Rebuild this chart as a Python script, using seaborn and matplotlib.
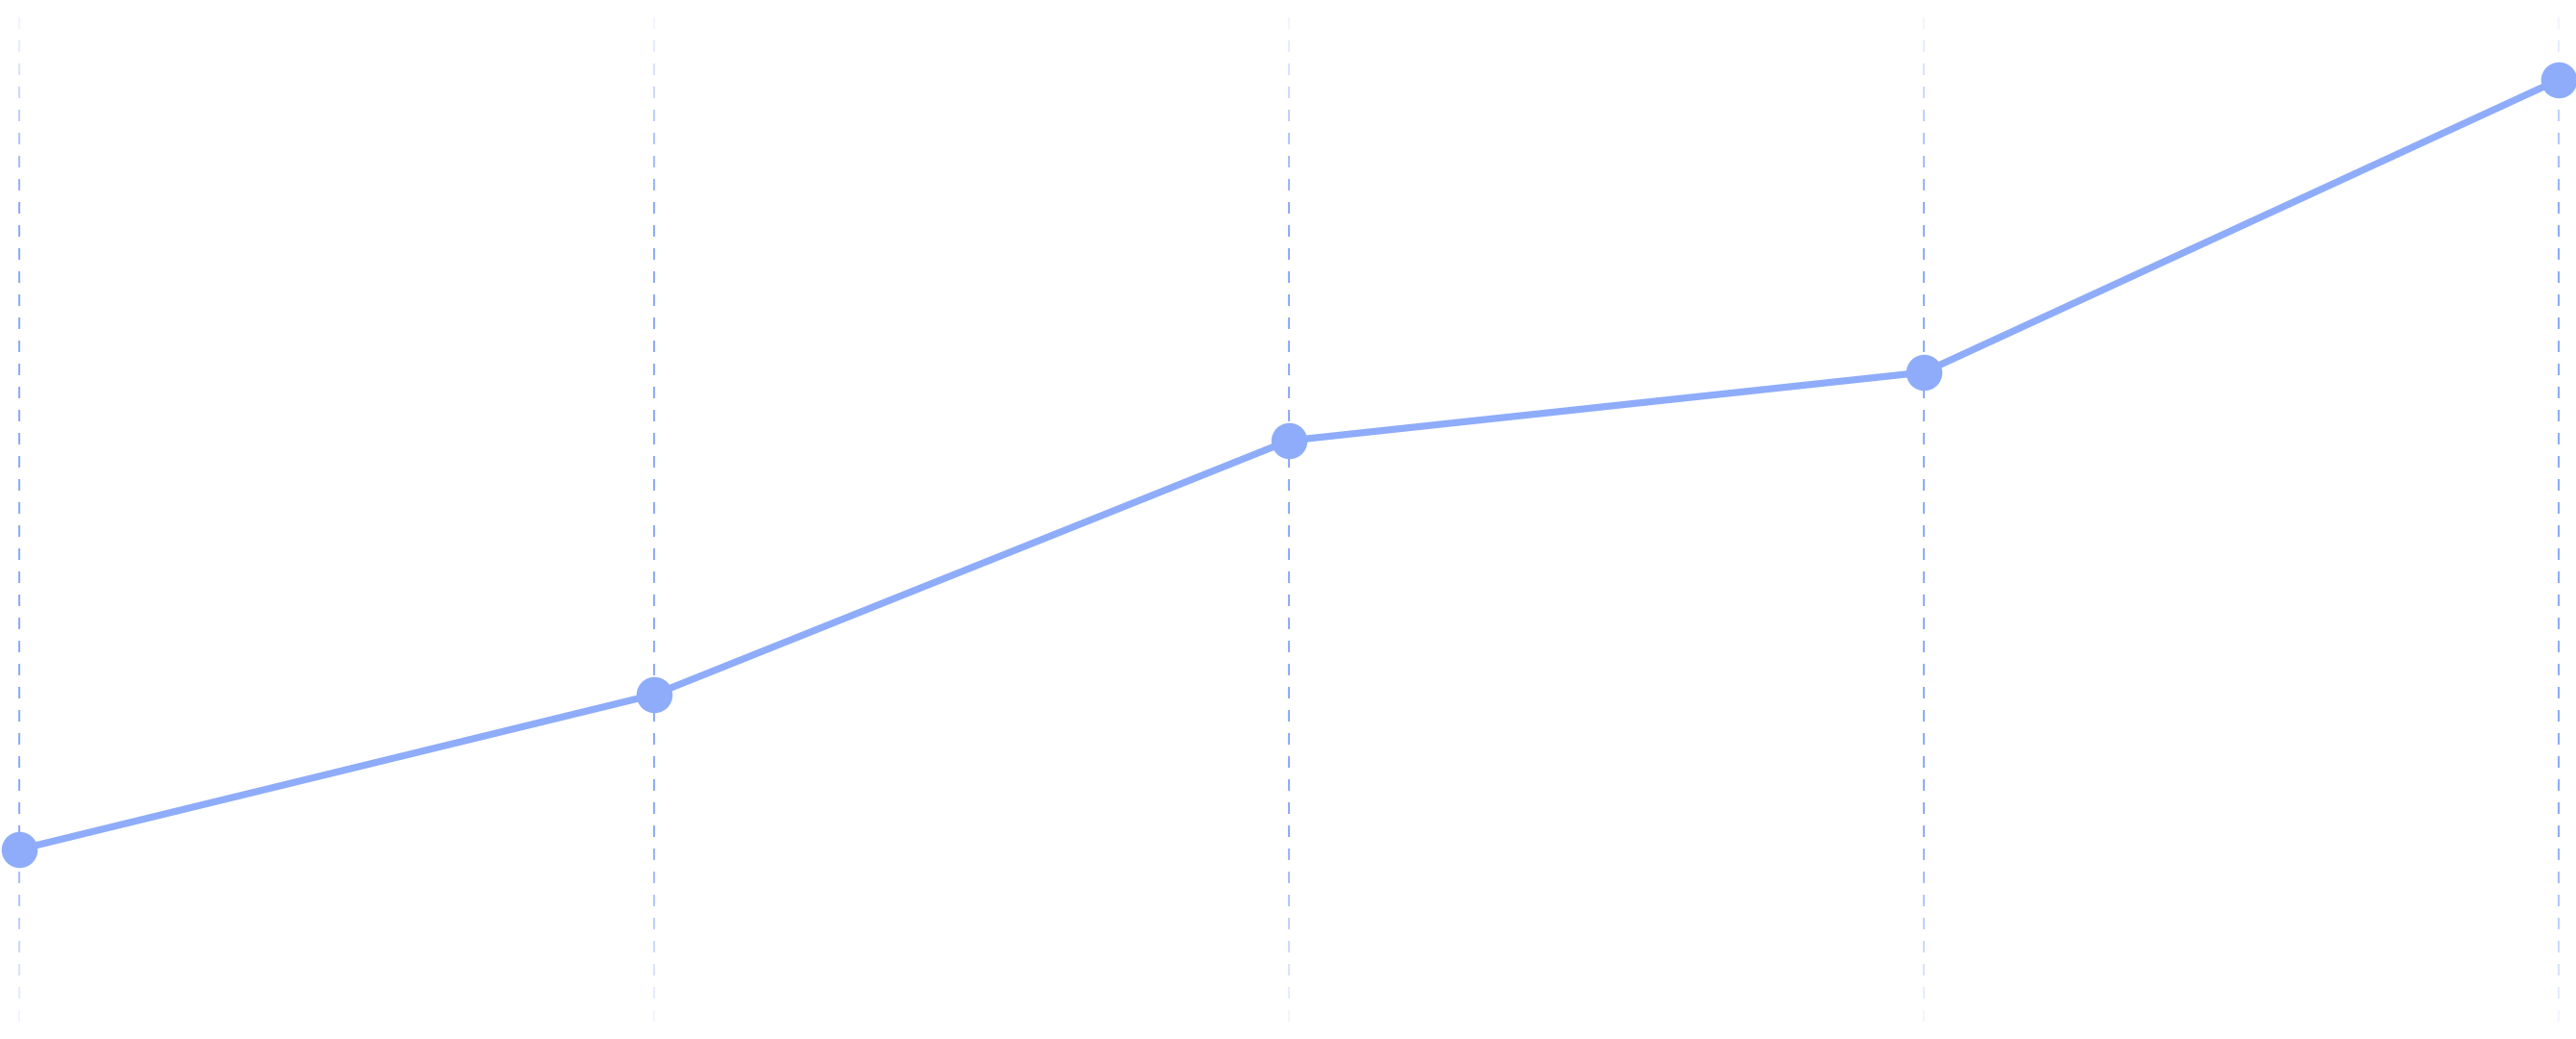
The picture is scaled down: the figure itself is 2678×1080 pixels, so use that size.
import numpy as np
import pandas as pd
import matplotlib
matplotlib.use("Agg")
import matplotlib.pyplot as plt
import seaborn as sns
from matplotlib.collections import LineCollection

# data
steps = [0, 1, 2, 3, 4]
values = [19.7, 35.8, 62.2, 69.3, 99.7]

blue = "#8eacf9"

sns.set_theme(style="white")
fig = plt.figure(figsize=(26.78, 10.8), dpi=100)
ax = fig.add_axes([0, 0, 1, 1])

df = pd.DataFrame({"step": steps, "value": values})

# dashed vertical guides with fade at top and bottom
H = 1080.0
segs = []
cols = []
for s in steps:
    for k in range(-1, 46):
        top = 18 + 24 * k
        bot = top + 12
        mid = (top + bot) / 2
        edge = min(mid, H - mid)
        a = np.clip(edge / 216.0, 0, 1)
        segs.append([(s, 1 - top / H), (s, 1 - bot / H)])
        cols.append(matplotlib.colors.to_rgba(blue, a))
lc = LineCollection(segs, colors=cols, linewidths=1.5,
                    transform=ax.get_xaxis_transform(), zorder=1)
ax.add_collection(lc)

sns.lineplot(data=df, x="step", y="value", ax=ax, color=blue, linewidth=5.2,
             marker="o", markersize=27, markeredgewidth=0, zorder=3)

ax.set_xlim(-20 / 660, 4 + 18 / 660)
ax.set_ylim(0, 108)
ax.axis("off")

fig.savefig("out.png", dpi=100, facecolor="white")
